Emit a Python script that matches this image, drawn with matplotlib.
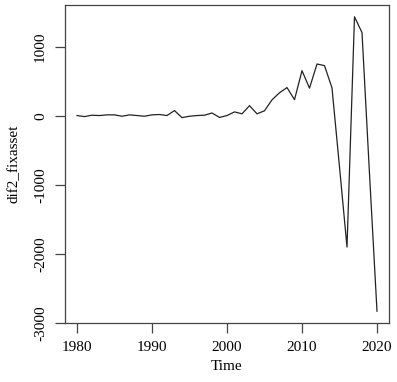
import matplotlib
matplotlib.use("Agg")
import matplotlib.pyplot as plt

years = list(range(1980, 2021))
values = [5, -10, 10, 5, 15, 15, -5, 15, 5, -5,
          15, 20, 5, 77, -25, -5, 5, 10, 42, -22,
          5, 58, 30, 148, 30, 74, 232, 335, 410, 235,
          655, 402, 752, 728, 405, -740, -1900, 1436, 1207, -840,
          -2830]
xticks = [1980, 1990, 2000, 2010, 2020]
yticks = [-3000, -2000, -1000, 0, 1000]

plt.rcParams['font.family'] = ['Liberation Serif', 'DejaVu Serif']
W, H = 397, 382
fig = plt.figure(figsize=(W / 100, H / 100), dpi=100)
ax = fig.add_axes([65 / W, 1 - 323 / H, (389 - 65) / W, (323 - 5) / H])

ax.plot(years, values, color='#222222', lw=0.9)

xmin, xmax = min(years), max(years)
xr = (xmax - xmin) * 0.04
ax.set_xlim(xmin - xr, xmax + xr)
ymin, ymax = min(values), max(values)
yr = (ymax - ymin) * 0.04
ax.set_ylim(ymin - yr, ymax + yr)

ax.set_xticks(xticks)
ax.set_xticklabels([str(t) for t in xticks])
ax.set_yticks(yticks)
ax.set_yticklabels([str(t) for t in yticks], rotation=90, va='center')

for s in ax.spines.values():
    s.set_color('#444444')
    s.set_linewidth(0.9)
ax.tick_params(axis='both', length=7, width=0.9, color='#444444',
               labelsize=11, pad=6, labelcolor='black')

ax.set_xlabel('Time', fontsize=11)
ax.set_ylabel('dif2_fixasset', fontsize=11)
ax.xaxis.set_label_coords(0.5, (323 - 367) / 318)
ax.xaxis.label.set_va('center')
ax.yaxis.set_label_coords((14 - 65) / 324, 0.5)
ax.yaxis.label.set_va('center')

fig.savefig('out.png', dpi=100)
